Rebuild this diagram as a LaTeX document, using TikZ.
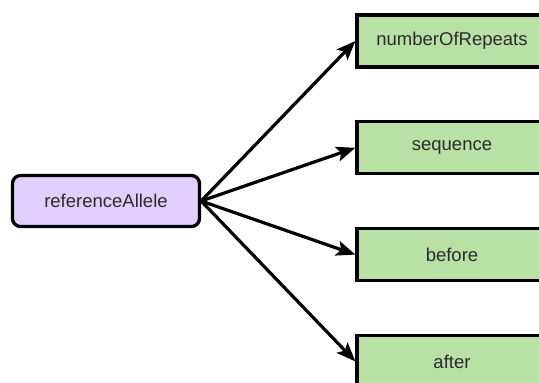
\documentclass[tikz,border=0pt]{standalone}
\usepackage{fontspec}
\setmainfont{Liberation Sans}
\usepackage{xcolor}
\usetikzlibrary{positioning, arrows.meta}
\definecolor{refpurple}{HTML}{E1CFFF}
\definecolor{attrgreen}{HTML}{B9E0A5}
\definecolor{labelgray}{HTML}{2B2B2B}
\tikzstyle{source} = [rectangle, draw, line width=3.3pt, fill=refpurple,
rounded corners=8pt, minimum width=187pt, minimum height=51pt,
text=labelgray, font=\fontsize{18.5}{22}\selectfont]
\tikzstyle{attr} = [rectangle, draw, line width=3.3pt, fill=attrgreen,
minimum width=190pt, minimum height=52pt,
text=labelgray, font=\fontsize{18.5}{22}\selectfont]
\tikzstyle{line} = [draw, line width=3.2pt, -{Stealth[length=19pt, width=15pt, inset=4pt]}]

\begin{document}
\begin{tikzpicture}
	\useasboundingbox (0,0) rectangle (539pt,-383pt);
	\clip (0,0) rectangle (539pt,-383pt);
	% Place nodes
	\node [source] (refAllele) at (106pt,-201pt) {referenceAllele};
	\node [attr] (repeats) at (452pt,-41pt) {numberOfRepeats};
	\node [attr, below=51.5pt of repeats] (sequence) {sequence};
	\node [attr, below=51.5pt of sequence] (before) {before};
	\node [attr, below=51.5pt of before] (after) {after};
	%
	\path [line] (refAllele.east) -- (repeats.west);
	\path [line] (refAllele.east) -- (sequence.west);
	\path [line] (refAllele.east) -- (before.west);
	\path [line] (refAllele.east) -- (after.west);
\end{tikzpicture}
\end{document}
